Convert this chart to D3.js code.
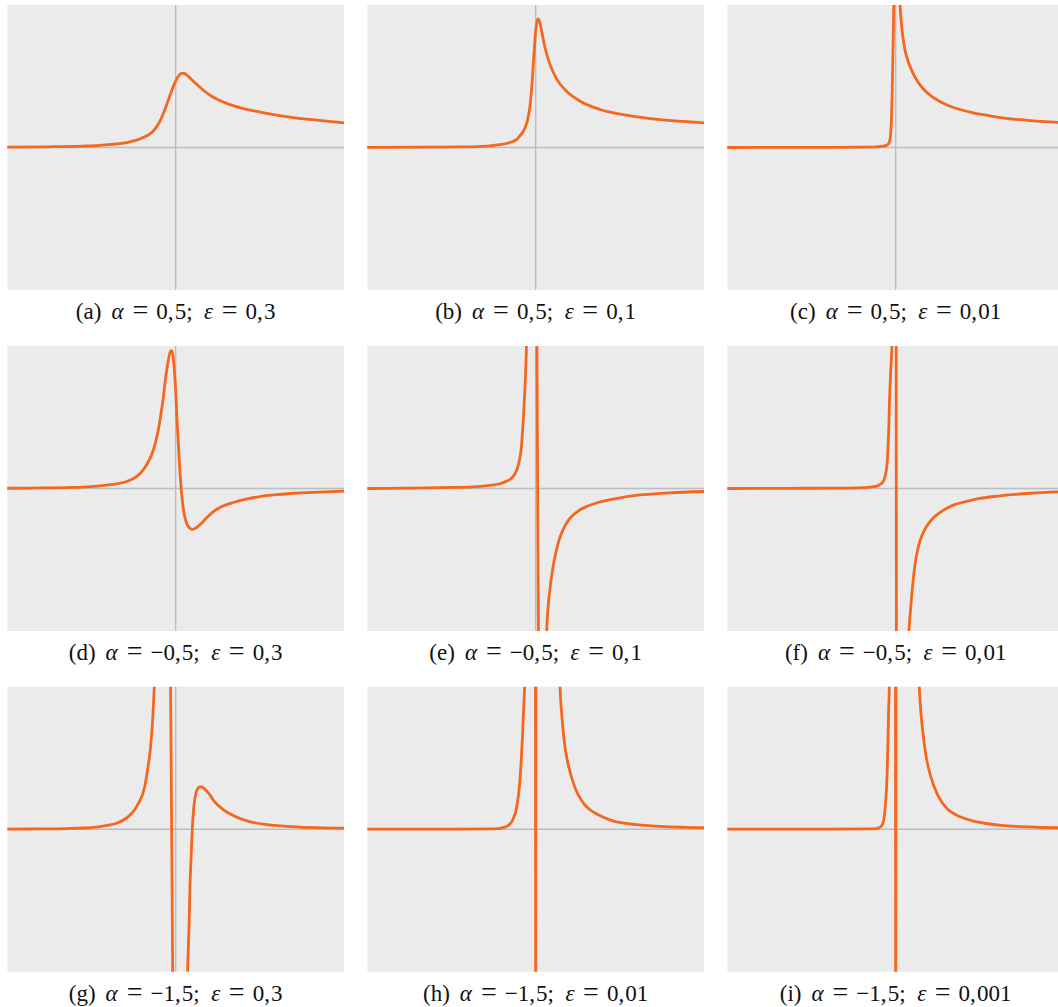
<!DOCTYPE html>
<html>
<head>
<meta charset="utf-8">
<script src="https://cdn.jsdelivr.net/npm/d3@7"></script>
<style>
  html, body { margin: 0; padding: 0; background: #ffffff; }
  svg { display: block; }
</style>
</head>
<body>
<svg id="chart" width="1058" height="1007"></svg>
<script>
// ---------- data (x in [-4,4], y in [-3,3]; values beyond ±3 leave the frame) ----------
const panelLetters = ["a", "b", "c", "d", "e", "f", "g", "h", "i"];
const alphaLabels = ["0,5", "0,5", "0,5", "\u22120,5", "\u22120,5", "\u22120,5", "\u22121,5", "\u22121,5", "\u22121,5"];
const epsLabels = ["0,3", "0,1", "0,01", "0,3", "0,1", "0,01", "0,3", "0,01", "0,001"];

const curveA = [[-4,0.007],[-3,0.015],[-2.2,0.03],[-1.8,0.045],[-1.4,0.075],[-1.16,0.105],[-0.95,0.15],[-0.77,0.21],[-0.62,0.28],[-0.53,0.35],[-0.45,0.44],[-0.37,0.56],[-0.29,0.72],[-0.21,0.91],[-0.15,1.06],[-0.095,1.19],[-0.04,1.32],[0.024,1.44],[0.08,1.52],[0.14,1.56],[0.2,1.56],[0.26,1.53],[0.38,1.43],[0.5,1.33],[0.65,1.21],[0.82,1.1],[1.0,1.01],[1.21,0.93],[1.61,0.82],[2.16,0.72],[2.79,0.63],[3.35,0.575],[4.0,0.52]];
const curveB = [[-4,0.002],[-2.6,0.006],[-1.8,0.012],[-1.4,0.02],[-1.1,0.035],[-0.85,0.06],[-0.65,0.095],[-0.53,0.13],[-0.44,0.18],[-0.37,0.25],[-0.3,0.33],[-0.25,0.42],[-0.2,0.55],[-0.17,0.68],[-0.14,0.84],[-0.12,1.0],[-0.095,1.25],[-0.07,1.55],[-0.045,1.9],[-0.02,2.22],[0.0,2.45],[0.03,2.64],[0.06,2.71],[0.09,2.66],[0.14,2.46],[0.22,2.11],[0.34,1.75],[0.5,1.44],[0.74,1.18],[1.05,0.98],[1.53,0.8],[2.16,0.68],[2.95,0.585],[4.0,0.52]];
const curveC = [[-4,0.0],[-2.5,0.002],[-1.48,0.004],[-0.8,0.008],[-0.45,0.015],[-0.3,0.028],[-0.22,0.045],[-0.174,0.075],[-0.14,0.14],[-0.119,0.28],[-0.1,0.6],[-0.087,0.98],[-0.071,1.68],[-0.055,2.39],[-0.045,3.0],[-0.03,4.2],[0.0,6.0],[0.06,4.0],[0.103,3.0],[0.12,2.78],[0.14,2.58],[0.17,2.34],[0.22,2.06],[0.28,1.86],[0.34,1.71],[0.42,1.55],[0.5,1.42],[0.6,1.29],[0.74,1.16],[0.88,1.06],[1.05,0.97],[1.28,0.875],[1.53,0.8],[1.82,0.735],[2.16,0.68],[2.5,0.63],[2.95,0.585],[3.45,0.55],[4.0,0.52]];
const curveD = [[-4,0.005],[-3.2,0.012],[-2.59,0.02],[-2.2,0.03],[-1.8,0.056],[-1.5,0.085],[-1.24,0.126],[-1.08,0.18],[-0.93,0.25],[-0.8,0.36],[-0.69,0.5],[-0.6,0.65],[-0.53,0.81],[-0.47,1.0],[-0.41,1.24],[-0.35,1.57],[-0.29,1.94],[-0.25,2.25],[-0.21,2.5],[-0.17,2.72],[-0.135,2.86],[-0.1,2.9],[-0.07,2.83],[-0.04,2.6],[-0.015,2.3],[0.01,1.9],[0.03,1.5],[0.048,1.2],[0.075,0.78],[0.1,0.39],[0.13,0.02],[0.166,-0.31],[0.21,-0.57],[0.26,-0.73],[0.33,-0.83],[0.4,-0.86],[0.48,-0.83],[0.58,-0.76],[0.72,-0.63],[0.89,-0.49],[1.1,-0.38],[1.37,-0.295],[1.7,-0.22],[2.0,-0.17],[2.4,-0.13],[2.8,-0.1],[3.4,-0.075],[4.0,-0.056]];
const curveE = [[-4,0.0],[-3.2,0.006],[-2.59,0.014],[-2.0,0.022],[-1.4,0.04],[-1.1,0.065],[-0.85,0.1],[-0.7,0.15],[-0.57,0.22],[-0.5,0.3],[-0.45,0.39],[-0.41,0.5],[-0.37,0.67],[-0.34,0.86],[-0.32,1.09],[-0.3,1.35],[-0.28,1.66],[-0.262,1.98],[-0.245,2.29],[-0.23,2.65],[-0.218,3.0],[-0.2,4.0],[-0.17,6.0],[0.0125,6.0],[0.0213,4.5],[0.03,3.0],[0.0388,1.5],[0.0475,0.0],[0.0563,-1.5],[0.065,-3.0],[0.0738,-4.5],[0.0825,-6.0],[0.22,-6.0],[0.25,-4.0],[0.264,-3.0],[0.3,-2.45],[0.34,-2.12],[0.4,-1.72],[0.46,-1.43],[0.52,-1.2],[0.58,-1.02],[0.7,-0.78],[0.82,-0.62],[1.0,-0.48],[1.21,-0.38],[1.5,-0.29],[1.77,-0.235],[2.1,-0.18],[2.56,-0.13],[3.2,-0.09],[4.0,-0.063]];
const curveF = [[-4,0.0],[-2.5,0.004],[-1.48,0.008],[-0.9,0.015],[-0.61,0.03],[-0.45,0.05],[-0.37,0.085],[-0.32,0.12],[-0.28,0.175],[-0.24,0.3],[-0.21,0.46],[-0.19,0.7],[-0.175,1.02],[-0.16,1.35],[-0.15,1.72],[-0.135,2.1],[-0.12,2.42],[-0.1,2.75],[-0.088,3.0],[-0.075,3.6],[-0.06,6.0],[0.01,6.0],[0.0125,3.0],[0.015,0.0],[0.0175,-3.0],[0.02,-6.0],[0.3,-6.0],[0.31,-3.4],[0.317,-3.0],[0.35,-2.6],[0.38,-2.27],[0.42,-1.9],[0.46,-1.6],[0.52,-1.3],[0.58,-1.1],[0.7,-0.85],[0.82,-0.69],[1.0,-0.54],[1.13,-0.46],[1.4,-0.34],[1.69,-0.27],[2.0,-0.21],[2.48,-0.155],[3.2,-0.1],[4.0,-0.065]];
const curveG = [[-4,0.0],[-3.2,0.006],[-2.59,0.014],[-2.2,0.025],[-1.8,0.056],[-1.6,0.085],[-1.4,0.126],[-1.25,0.19],[-1.12,0.27],[-1.02,0.36],[-0.93,0.47],[-0.85,0.6],[-0.78,0.75],[-0.73,0.92],[-0.69,1.12],[-0.65,1.35],[-0.61,1.61],[-0.575,1.95],[-0.546,2.31],[-0.525,2.65],[-0.507,3.0],[-0.49,3.4],[-0.45,4.5],[-0.4,6.0],[-0.145,6.0],[-0.12,3.0],[-0.095,0.0],[-0.07,-3.0],[-0.045,-6.0],[0.26,-6.0],[0.275,-3.6],[0.284,-2.99],[0.3,-2.55],[0.316,-2.11],[0.33,-1.62],[0.34,-1.2],[0.355,-0.85],[0.371,-0.5],[0.395,0.0],[0.427,0.41],[0.45,0.6],[0.475,0.73],[0.505,0.82],[0.537,0.87],[0.58,0.89],[0.617,0.89],[0.66,0.87],[0.696,0.84],[0.76,0.78],[0.815,0.72],[0.895,0.61],[1.0,0.51],[1.13,0.414],[1.3,0.32],[1.53,0.225],[1.8,0.15],[2.16,0.098],[2.5,0.07],[2.95,0.042],[3.5,0.03],[4.0,0.021]];
const curveH = [[-4,0.0],[-1.8,0.002],[-1.0,0.007],[-0.77,0.035],[-0.68,0.065],[-0.61,0.11],[-0.56,0.17],[-0.515,0.26],[-0.47,0.38],[-0.435,0.55],[-0.4,0.78],[-0.372,1.05],[-0.345,1.4],[-0.325,1.75],[-0.308,2.05],[-0.293,2.38],[-0.277,2.7],[-0.261,3.0],[-0.245,3.4],[-0.2,4.5],[-0.15,6.0],[-0.006,6.0],[-0.004,3.0],[-0.002,0.0],[0.0,-3.0],[0.002,-6.0],[0.004,-3.0],[0.006,0.0],[0.008,3.0],[0.01,6.0],[0.5,6.0],[0.54,3.7],[0.56,3.36],[0.578,3.01],[0.595,2.72],[0.618,2.45],[0.645,2.15],[0.673,1.9],[0.72,1.6],[0.776,1.35],[0.835,1.15],[0.895,0.975],[0.97,0.8],[1.053,0.66],[1.16,0.52],[1.29,0.41],[1.45,0.32],[1.61,0.25],[1.85,0.17],[2.16,0.12],[2.5,0.085],[2.95,0.058],[3.5,0.04],[4.0,0.03]];
const curveI = [[-4,0.0],[-1.48,0.001],[-0.61,0.007],[-0.45,0.014],[-0.35,0.056],[-0.31,0.11],[-0.293,0.154],[-0.27,0.27],[-0.253,0.41],[-0.233,0.63],[-0.214,0.905],[-0.2,1.25],[-0.19,1.61],[-0.178,2.05],[-0.166,2.52],[-0.15,3.01],[-0.143,3.36],[-0.12,4.5],[-0.08,6.0],[-0.006,6.0],[-0.004,3.0],[-0.002,0.0],[0.0,-3.0],[0.002,-6.0],[0.004,-3.0],[0.006,0.0],[0.008,3.0],[0.01,6.0],[0.5,6.0],[0.535,3.7],[0.554,3.36],[0.562,3.01],[0.578,2.75],[0.594,2.52],[0.625,2.22],[0.657,1.96],[0.695,1.7],[0.736,1.47],[0.8,1.22],[0.855,1.05],[0.93,0.86],[1.013,0.695],[1.12,0.54],[1.25,0.41],[1.42,0.31],[1.61,0.235],[1.85,0.17],[2.16,0.12],[2.5,0.082],[2.87,0.058],[3.4,0.04],[4.0,0.028]];

const curves = [curveA, curveB, curveC, curveD, curveE, curveF, curveG, curveH, curveI];
const xDomain = [-4, 4];
const yDomain = [-3, 3];

// ---------- layout ----------
const svg = d3.select("#chart");
const colLeft = [7.3, 367.3, 727.3];
const rowTop = [5, 346, 686.7];
const pw = 336.7, ph = 285;
const serif = "'Liberation Serif', 'Times New Roman', Times, serif";

curves.forEach((data, i) => {
  const r = Math.floor(i / 3), c = i % 3;
  const left = colLeft[c], top = rowTop[r];
  const x = d3.scaleLinear().domain(xDomain).range([left, left + pw]);
  const y = d3.scaleLinear().domain(yDomain).range([top + ph, top]);

  const g = svg.append("g");
  const clipId = "clip" + i;
  svg.append("clipPath").attr("id", clipId)
    .append("rect").attr("x", left).attr("y", top).attr("width", pw).attr("height", ph);

  g.append("rect").attr("x", left).attr("y", top).attr("width", pw).attr("height", ph)
    .attr("fill", "#ebebeb");

  // zero axes
  g.append("line").attr("x1", x(xDomain[0])).attr("x2", x(xDomain[1]))
    .attr("y1", y(0)).attr("y2", y(0))
    .attr("stroke", "#bdbdbd").attr("stroke-width", 1.4);
  g.append("line").attr("x1", x(0)).attr("x2", x(0))
    .attr("y1", y(yDomain[0])).attr("y2", y(yDomain[1]))
    .attr("stroke", "#bdbdbd").attr("stroke-width", 1.4);

  const line = d3.line().x(d => x(d[0])).y(d => y(d[1])).curve(d3.curveMonotoneX);
  g.append("path").datum(data)
    .attr("clip-path", "url(#" + clipId + ")")
    .attr("d", line)
    .attr("fill", "none")
    .attr("stroke", "#f5661e")
    .attr("stroke-width", 2.8)
    .attr("stroke-linejoin", "round")
    .attr("stroke-linecap", "round");

  // caption (math-style spacing)
  const t = svg.append("text")
    .attr("x", left + pw / 2)
    .attr("y", top + ph + 29)
    .attr("text-anchor", "middle")
    .style("font-family", serif)
    .style("font-size", "23px")
    .attr("fill", "#111");
  const addNumber = (s, dx) => {
    const parts = s.split(",");
    t.append("tspan").attr("dx", dx).text(parts[0] + ",");
    t.append("tspan").attr("dx", 1.2).text(parts[1]);
  };
  t.append("tspan").text("(" + panelLetters[i] + ")");
  t.append("tspan").attr("dx", 10).style("font-style", "italic").text("\u03b1");
  t.append("tspan").attr("dx", 9).style("font-size", "28px").text("=");
  addNumber(alphaLabels[i], 8);
  t.append("tspan").text(";");
  t.append("tspan").attr("dx", 11.5).style("font-style", "italic").text("\u03b5");
  t.append("tspan").attr("dx", 8.5).style("font-size", "28px").text("=");
  addNumber(epsLabels[i], 8);
});
</script>
</body>
</html>
